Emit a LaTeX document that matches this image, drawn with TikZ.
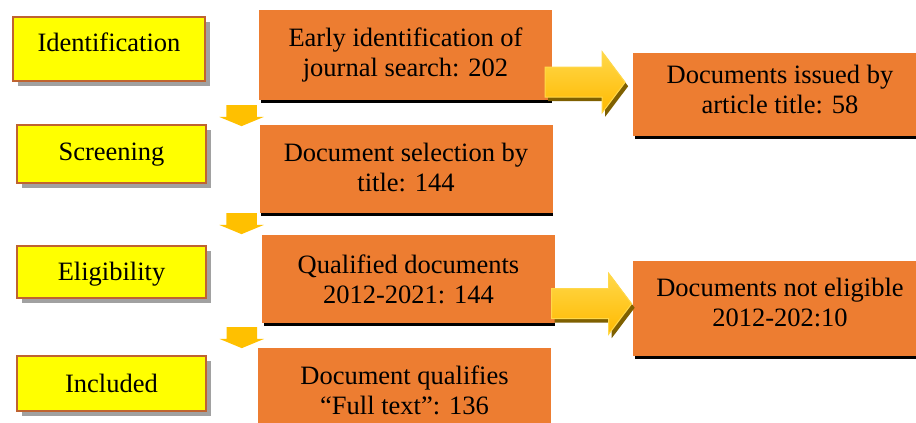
\documentclass[tikz,border=0pt]{standalone}
\usepackage{fontspec}
\setmainfont{Liberation Serif}
\usepackage{tikz}
\usetikzlibrary{shapes,arrows,positioning,calc,shadows}

\definecolor{stageyellow}{HTML}{FFFF00}
\definecolor{stageborder}{HTML}{BF6330}
\definecolor{docorange}{HTML}{ED7D31}
\definecolor{arrowgold}{HTML}{FFC000}
\definecolor{arrowlight}{HTML}{FFD84A}
\definecolor{arrowshade}{HTML}{7F6000}

\begin{document}
\begin{tikzpicture}[x=1pt, y=1pt, font=\fontsize{26.5}{30}\selectfont]
        % Define block styles
        \tikzstyle{stagebox} = [rectangle, draw=stageborder, line width=2.5pt, fill=stageyellow, text centered, text height=18pt, text depth=0pt, minimum width=189pt, drop shadow={shadow xshift=5pt, shadow yshift=-5pt, fill=black!37, opacity=1}]
        \tikzstyle{docbox} = [rectangle, fill=docorange, align=center, minimum width=293pt, inner sep=0pt]
        \tikzstyle{bar} = [draw, line width=3pt]
        \tikzstyle{stepdown} = [single arrow, rotate=-90, fill=arrowgold, inner xsep=0pt, inner ysep=15pt, minimum height=21pt, single arrow head extend=7pt, single arrow tip angle=135]
        \tikzstyle{stepright} = [single arrow, draw=arrowlight, line width=1pt, top color=arrowlight, bottom color=arrowgold!90!orange, inner xsep=0pt, inner ysep=14.5pt, minimum height=80pt, single arrow head extend=15.5pt, single arrow tip angle=106, drop shadow={shadow xshift=3pt, shadow yshift=-4pt, fill=arrowshade, opacity=1}]

        \useasboundingbox (0,0) rectangle (916,423);

        % Nodes
        \node [stagebox, minimum width=192pt, minimum height=64pt, text depth=12pt] (Identification) at (109,374) {Identification};
        \node [stagebox, minimum height=58pt, text depth=5pt] (Screening) at (111.5,269) {Screening};
        \node [stagebox, minimum height=52pt] (Eligibility) at (111.5,151) {Eligibility};
        \node [stagebox, minimum height=55pt] (Included) at (111.5,39.5) {Included};

        \node [docbox, minimum height=90pt, text depth=6pt] (Early_Search) at (405.5,368) {Early identification of\\journal search: 202};
        \node [docbox, minimum height=88pt, text depth=3pt] (Title_Select) at (406,254) {Document selection by\\title: 144};
        \node [docbox, minimum height=88pt] (Qualified) at (408.5,144) {Qualified documents\\2012-2021: 144};
        \node [docbox, minimum height=85pt] (Full_Text) at (404.5,32.5) {Document qualifies\\``Full text'': 136};
        \node [docbox, minimum width=294pt, minimum height=83pt, text depth=11pt] (Issued) at (780,328.5) {Documents issued by\\article title: 58};
        \node [docbox, minimum width=294pt, minimum height=95pt, text depth=13pt] (Not_Eligible) at (780,114.5) {Documents not eligible\\2012-202:10};

        % Underlines
        \foreach \doc in {Early_Search, Title_Select, Qualified, Issued, Not_Eligible}
            \path [bar] ([xshift=2pt, yshift=-1.5pt]\doc.south west) -- ([yshift=-1.5pt]\doc.south east);

        % Arrows
        \node [stepdown] (Down_One) at ($(Early_Search.south west)!0.5!(Title_Select.north west)+(-17.5,0)$) {};
        \node [stepdown] (Down_Two) at ($(Title_Select.south west)!0.5!(Qualified.north west)+(-19,3.5)$) {};
        \node [stepdown] (Down_Three) at ($(Qualified.south west)!0.5!(Full_Text.north west)+(-18,1)$) {};
        \node [stepright] (Right_One) at ($(Early_Search.east)!0.5!(Issued.west)+(-13,-7.5)$) {};
        \node [stepright] (Right_Two) at ($(Qualified.east)!0.5!(Not_Eligible.west)+(-8,-10)$) {};
    \end{tikzpicture}
\end{document}
